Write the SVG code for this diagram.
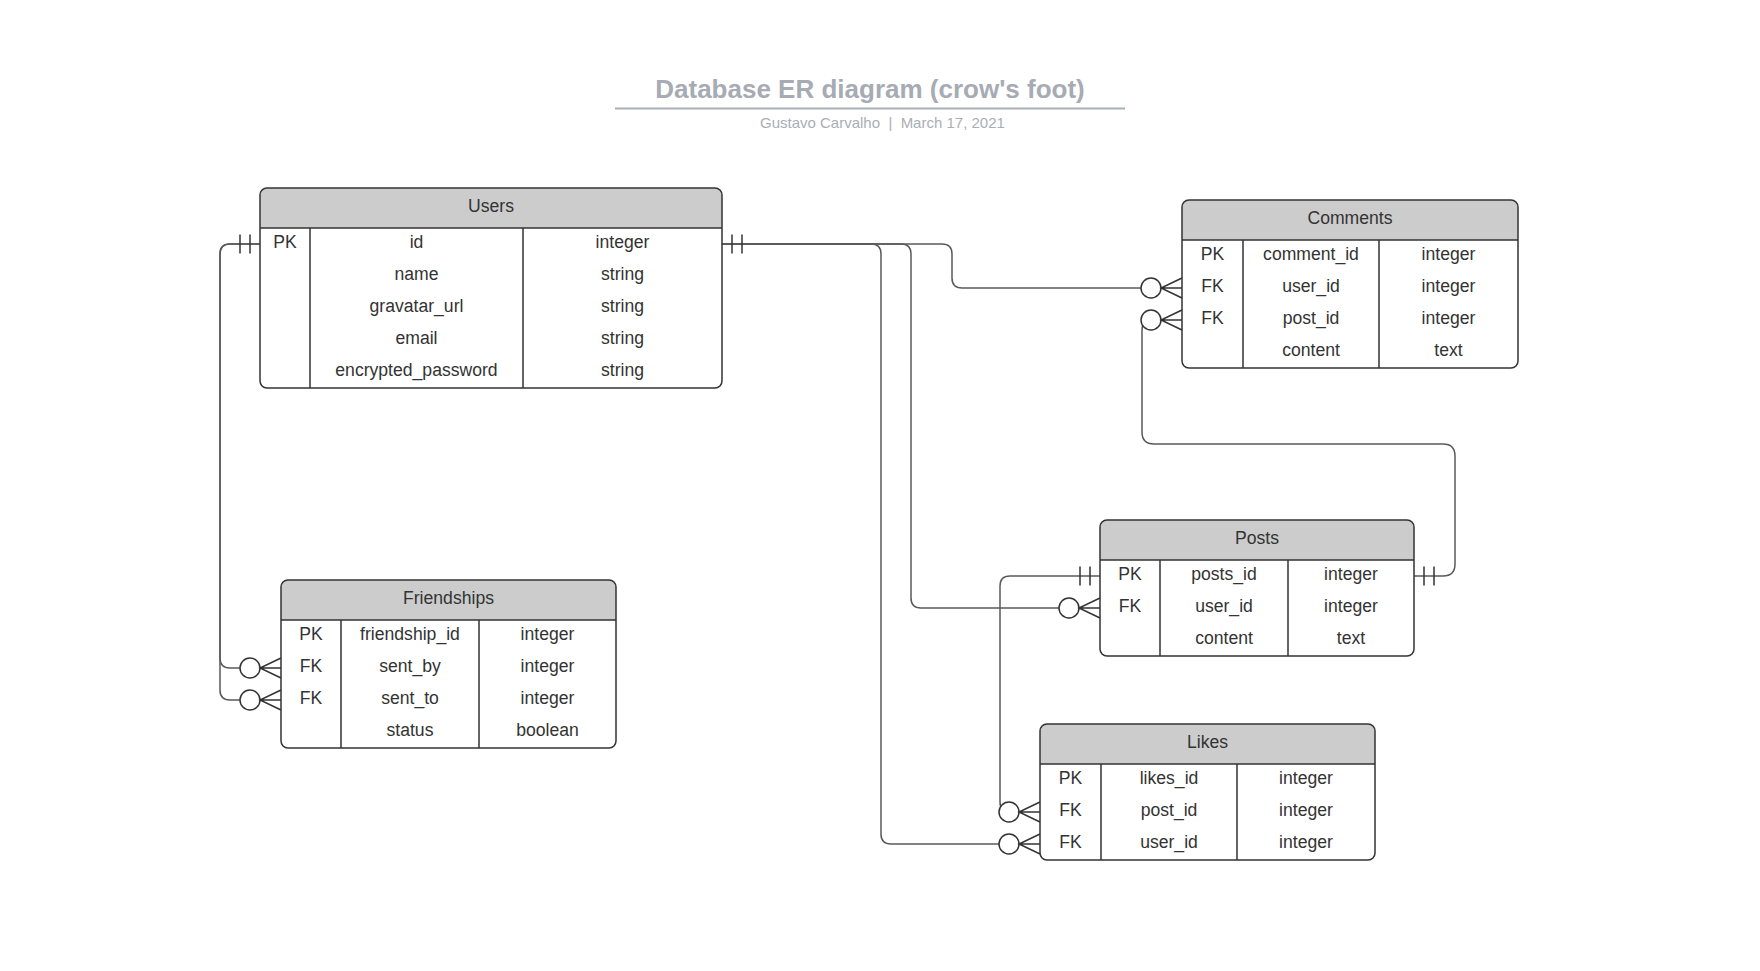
<svg xmlns="http://www.w3.org/2000/svg" width="1760" height="971" viewBox="0 0 1760 971">
<style>
text{font-family:"Liberation Sans",Arial,Helvetica,sans-serif}
.t{font-size:17.6px;fill:#333333;text-anchor:middle}
.hdr{fill:#cccccc;stroke:none}
.box{fill:none;stroke:#333333;stroke-width:1.5}
.ln{stroke:#333333;stroke-width:1.5;fill:none}
.conn{fill:none;stroke:#595959;stroke-width:1.5}
.mk{fill:none;stroke:#333333;stroke-width:1.5}
.ring{fill:#ffffff;stroke:#333333;stroke-width:1.5}
.title{font-size:26px;font-weight:bold;fill:#a6abb4;text-anchor:middle}
.sub{font-size:15px;fill:#a9aeb6;white-space:pre}
</style>
<rect width="1760" height="971" fill="#ffffff"/>
<g id="title">
<text class="title" x="870" y="98">Database ER diagram (crow's foot)</text>
<line x1="615" y1="108.5" x2="1125" y2="108.5" stroke="#a9afb8" stroke-width="2"/>
<text class="sub" x="760" y="128" xml:space="preserve">Gustavo Carvalho  |  March 17, 2021</text>
</g>
<g id="connectors">
<path class="conn" d="M260,244 H230 Q220,244 220,254 V658 Q220,668 230,668 H240"/>
<path class="conn" d="M260,244 H230 Q220,244 220,254 V690 Q220,700 230,700 H240"/>
<path class="conn" d="M722,244 H942 Q952,244 952,254 V278 Q952,288 962,288 H1141"/>
<path class="conn" d="M722,244 H901 Q911,244 911,254 V598 Q911,608 921,608 H1059"/>
<path class="conn" d="M722,244 H871 Q881,244 881,254 V834 Q881,844 891,844 H999"/>
<path class="conn" d="M1100,576 H1010 Q1000,576 1000,586 V802 Q1000,812 1010,812"/>
<path class="conn" d="M1414,576 H1443 Q1455,576 1455,564 V456 Q1455,444 1443,444 H1154 Q1142,444 1142,432 V330 Q1142,320 1152,320"/>
<!-- one-mandatory markers -->
<path class="mk" d="M240,234.5 V253.5 M250,234.5 V253.5"/>
<path class="mk" d="M732,234.5 V253.5 M742,234.5 V253.5"/>
<path class="mk" d="M1080,566.5 V585.5 M1090,566.5 V585.5"/>
<path class="mk" d="M1424,566.5 V585.5 M1434,566.5 V585.5"/>
<!-- zero-or-many markers -->
<circle class="ring" cx="250" cy="668" r="10"/>
<path class="mk" d="M281,658 L260,668 L281,678 M260,668 H281"/>
<circle class="ring" cx="250" cy="700" r="10"/>
<path class="mk" d="M281,690 L260,700 L281,710 M260,700 H281"/>
<circle class="ring" cx="1151" cy="288" r="10"/>
<path class="mk" d="M1182,278 L1161,288 L1182,298 M1161,288 H1182"/>
<circle class="ring" cx="1151" cy="320" r="10"/>
<path class="mk" d="M1182,310 L1161,320 L1182,330 M1161,320 H1182"/>
<circle class="ring" cx="1069" cy="608" r="10"/>
<path class="mk" d="M1100,598 L1079,608 L1100,618 M1079,608 H1100"/>
<circle class="ring" cx="1009" cy="812" r="10"/>
<path class="mk" d="M1040,802 L1019,812 L1040,822 M1019,812 H1040"/>
<circle class="ring" cx="1009" cy="844" r="10"/>
<path class="mk" d="M1040,834 L1019,844 L1040,854 M1019,844 H1040"/>
</g>
<g id="users">
<rect x="260" y="188" width="462" height="200" rx="7" fill="#ffffff"/>
<path class="hdr" d="M260,228 V195 Q260,188 267,188 H715 Q722,188 722,195 V228 Z"/>
<rect class="box" x="260" y="188" width="462" height="200" rx="7"/>
<path class="ln" d="M260,228 H722 M310,228 V388 M523,228 V388"/>
<text class="t" x="491" y="211.5">Users</text>
<text class="t" x="285" y="248">PK</text>
<text class="t" x="416.5" y="248">id</text>
<text class="t" x="622.5" y="248">integer</text>
<text class="t" x="416.5" y="280">name</text>
<text class="t" x="622.5" y="280">string</text>
<text class="t" x="416.5" y="312">gravatar_url</text>
<text class="t" x="622.5" y="312">string</text>
<text class="t" x="416.5" y="344">email</text>
<text class="t" x="622.5" y="344">string</text>
<text class="t" x="416.5" y="376">encrypted_password</text>
<text class="t" x="622.5" y="376">string</text>
</g>
<g id="comments">
<rect x="1182" y="200" width="336" height="168" rx="7" fill="#ffffff"/>
<path class="hdr" d="M1182,240 V207 Q1182,200 1189,200 H1511 Q1518,200 1518,207 V240 Z"/>
<rect class="box" x="1182" y="200" width="336" height="168" rx="7"/>
<path class="ln" d="M1182,240 H1518 M1243,240 V368 M1379,240 V368"/>
<text class="t" x="1350" y="223.5">Comments</text>
<text class="t" x="1212.5" y="260">PK</text>
<text class="t" x="1311" y="260">comment_id</text>
<text class="t" x="1448.5" y="260">integer</text>
<text class="t" x="1212.5" y="292">FK</text>
<text class="t" x="1311" y="292">user_id</text>
<text class="t" x="1448.5" y="292">integer</text>
<text class="t" x="1212.5" y="324">FK</text>
<text class="t" x="1311" y="324">post_id</text>
<text class="t" x="1448.5" y="324">integer</text>
<text class="t" x="1311" y="356">content</text>
<text class="t" x="1448.5" y="356">text</text>
</g>
<g id="posts">
<rect x="1100" y="520" width="314" height="136" rx="7" fill="#ffffff"/>
<path class="hdr" d="M1100,560 V527 Q1100,520 1107,520 H1407 Q1414,520 1414,527 V560 Z"/>
<rect class="box" x="1100" y="520" width="314" height="136" rx="7"/>
<path class="ln" d="M1100,560 H1414 M1160,560 V656 M1288,560 V656"/>
<text class="t" x="1257" y="543.5">Posts</text>
<text class="t" x="1130" y="580">PK</text>
<text class="t" x="1224" y="580">posts_id</text>
<text class="t" x="1351" y="580">integer</text>
<text class="t" x="1130" y="612">FK</text>
<text class="t" x="1224" y="612">user_id</text>
<text class="t" x="1351" y="612">integer</text>
<text class="t" x="1224" y="644">content</text>
<text class="t" x="1351" y="644">text</text>
</g>
<g id="friendships">
<rect x="281" y="580" width="335" height="168" rx="7" fill="#ffffff"/>
<path class="hdr" d="M281,620 V587 Q281,580 288,580 H609 Q616,580 616,587 V620 Z"/>
<rect class="box" x="281" y="580" width="335" height="168" rx="7"/>
<path class="ln" d="M281,620 H616 M341,620 V748 M479,620 V748"/>
<text class="t" x="448.5" y="603.5">Friendships</text>
<text class="t" x="311" y="640">PK</text>
<text class="t" x="410" y="640">friendship_id</text>
<text class="t" x="547.5" y="640">integer</text>
<text class="t" x="311" y="672">FK</text>
<text class="t" x="410" y="672">sent_by</text>
<text class="t" x="547.5" y="672">integer</text>
<text class="t" x="311" y="704">FK</text>
<text class="t" x="410" y="704">sent_to</text>
<text class="t" x="547.5" y="704">integer</text>
<text class="t" x="410" y="736">status</text>
<text class="t" x="547.5" y="736">boolean</text>
</g>
<g id="likes">
<rect x="1040" y="724" width="335" height="136" rx="7" fill="#ffffff"/>
<path class="hdr" d="M1040,764 V731 Q1040,724 1047,724 H1368 Q1375,724 1375,731 V764 Z"/>
<rect class="box" x="1040" y="724" width="335" height="136" rx="7"/>
<path class="ln" d="M1040,764 H1375 M1101,764 V860 M1237,764 V860"/>
<text class="t" x="1207.5" y="747.5">Likes</text>
<text class="t" x="1070.5" y="784">PK</text>
<text class="t" x="1169" y="784">likes_id</text>
<text class="t" x="1306" y="784">integer</text>
<text class="t" x="1070.5" y="816">FK</text>
<text class="t" x="1169" y="816">post_id</text>
<text class="t" x="1306" y="816">integer</text>
<text class="t" x="1070.5" y="848">FK</text>
<text class="t" x="1169" y="848">user_id</text>
<text class="t" x="1306" y="848">integer</text>
</g>
</svg>
